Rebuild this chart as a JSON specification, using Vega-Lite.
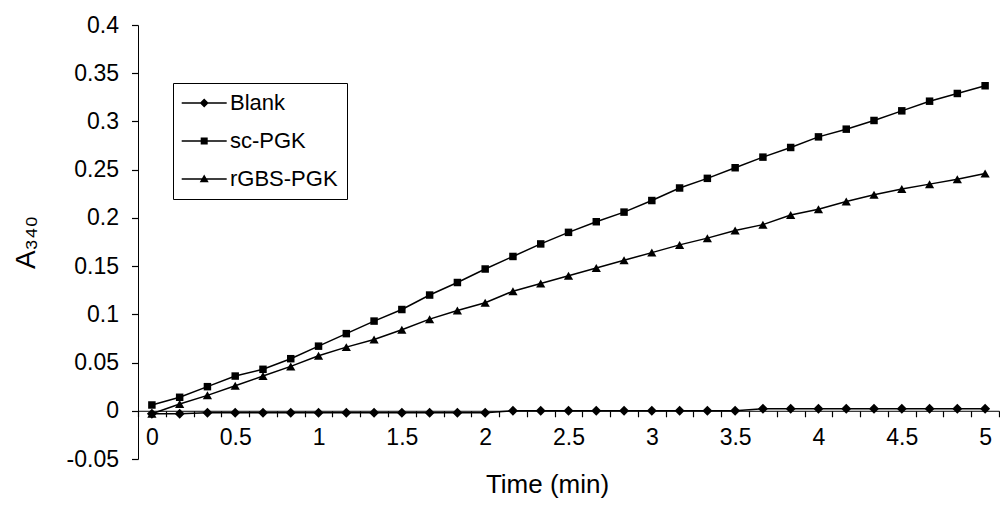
{
  "$schema": "https://vega.github.io/schema/vega-lite/v6.json",
  "width": 861,
  "height": 434,
  "autosize": {"type": "none"},
  "padding": {"left": 138, "top": 25, "right": 1, "bottom": 47},
  "background": "white",
  "config": {
    "view": {"stroke": null},
    "font": "Liberation Sans",
    "legend": {"strokeWidth": 1},
    "axis": {
      "grid": false,
      "ticks": true,
      "domainColor": "black",
      "domainWidth": 1,
      "tickColor": "black",
      "tickWidth": 1.2,
      "labelColor": "black",
      "titleColor": "black",
      "labelFont": "Liberation Sans",
      "titleFont": "Liberation Sans",
      "titleFontWeight": "normal"
    }
  },
  "data": {
    "values": [
      {"t": 0, "v": -0.003, "s": "Blank"},
      {"t": 0.1667, "v": -0.003, "s": "Blank"},
      {"t": 0.3333, "v": -0.002, "s": "Blank"},
      {"t": 0.5, "v": -0.002, "s": "Blank"},
      {"t": 0.6667, "v": -0.002, "s": "Blank"},
      {"t": 0.8333, "v": -0.002, "s": "Blank"},
      {"t": 1, "v": -0.002, "s": "Blank"},
      {"t": 1.1667, "v": -0.002, "s": "Blank"},
      {"t": 1.3333, "v": -0.002, "s": "Blank"},
      {"t": 1.5, "v": -0.002, "s": "Blank"},
      {"t": 1.6667, "v": -0.002, "s": "Blank"},
      {"t": 1.8333, "v": -0.002, "s": "Blank"},
      {"t": 2, "v": -0.002, "s": "Blank"},
      {"t": 2.1667, "v": 0, "s": "Blank"},
      {"t": 2.3333, "v": 0, "s": "Blank"},
      {"t": 2.5, "v": 0, "s": "Blank"},
      {"t": 2.6667, "v": 0, "s": "Blank"},
      {"t": 2.8333, "v": 0, "s": "Blank"},
      {"t": 3, "v": 0, "s": "Blank"},
      {"t": 3.1667, "v": 0, "s": "Blank"},
      {"t": 3.3333, "v": 0, "s": "Blank"},
      {"t": 3.5, "v": 0, "s": "Blank"},
      {"t": 3.6667, "v": 0.002, "s": "Blank"},
      {"t": 3.8333, "v": 0.002, "s": "Blank"},
      {"t": 4, "v": 0.002, "s": "Blank"},
      {"t": 4.1667, "v": 0.002, "s": "Blank"},
      {"t": 4.3333, "v": 0.002, "s": "Blank"},
      {"t": 4.5, "v": 0.002, "s": "Blank"},
      {"t": 4.6667, "v": 0.002, "s": "Blank"},
      {"t": 4.8333, "v": 0.002, "s": "Blank"},
      {"t": 5, "v": 0.002, "s": "Blank"},

      {"t": 0, "v": 0.006, "s": "sc-PGK"},
      {"t": 0.1667, "v": 0.014, "s": "sc-PGK"},
      {"t": 0.3333, "v": 0.025, "s": "sc-PGK"},
      {"t": 0.5, "v": 0.036, "s": "sc-PGK"},
      {"t": 0.6667, "v": 0.043, "s": "sc-PGK"},
      {"t": 0.8333, "v": 0.054, "s": "sc-PGK"},
      {"t": 1, "v": 0.067, "s": "sc-PGK"},
      {"t": 1.1667, "v": 0.080, "s": "sc-PGK"},
      {"t": 1.3333, "v": 0.093, "s": "sc-PGK"},
      {"t": 1.5, "v": 0.105, "s": "sc-PGK"},
      {"t": 1.6667, "v": 0.120, "s": "sc-PGK"},
      {"t": 1.8333, "v": 0.133, "s": "sc-PGK"},
      {"t": 2, "v": 0.147, "s": "sc-PGK"},
      {"t": 2.1667, "v": 0.160, "s": "sc-PGK"},
      {"t": 2.3333, "v": 0.173, "s": "sc-PGK"},
      {"t": 2.5, "v": 0.185, "s": "sc-PGK"},
      {"t": 2.6667, "v": 0.196, "s": "sc-PGK"},
      {"t": 2.8333, "v": 0.206, "s": "sc-PGK"},
      {"t": 3, "v": 0.218, "s": "sc-PGK"},
      {"t": 3.1667, "v": 0.231, "s": "sc-PGK"},
      {"t": 3.3333, "v": 0.241, "s": "sc-PGK"},
      {"t": 3.5, "v": 0.252, "s": "sc-PGK"},
      {"t": 3.6667, "v": 0.263, "s": "sc-PGK"},
      {"t": 3.8333, "v": 0.273, "s": "sc-PGK"},
      {"t": 4, "v": 0.284, "s": "sc-PGK"},
      {"t": 4.1667, "v": 0.292, "s": "sc-PGK"},
      {"t": 4.3333, "v": 0.301, "s": "sc-PGK"},
      {"t": 4.5, "v": 0.311, "s": "sc-PGK"},
      {"t": 4.6667, "v": 0.321, "s": "sc-PGK"},
      {"t": 4.8333, "v": 0.329, "s": "sc-PGK"},
      {"t": 5, "v": 0.337, "s": "sc-PGK"},

      {"t": 0, "v": -0.003, "s": "rGBS-PGK"},
      {"t": 0.1667, "v": 0.007, "s": "rGBS-PGK"},
      {"t": 0.3333, "v": 0.016, "s": "rGBS-PGK"},
      {"t": 0.5, "v": 0.026, "s": "rGBS-PGK"},
      {"t": 0.6667, "v": 0.036, "s": "rGBS-PGK"},
      {"t": 0.8333, "v": 0.046, "s": "rGBS-PGK"},
      {"t": 1, "v": 0.057, "s": "rGBS-PGK"},
      {"t": 1.1667, "v": 0.066, "s": "rGBS-PGK"},
      {"t": 1.3333, "v": 0.074, "s": "rGBS-PGK"},
      {"t": 1.5, "v": 0.084, "s": "rGBS-PGK"},
      {"t": 1.6667, "v": 0.095, "s": "rGBS-PGK"},
      {"t": 1.8333, "v": 0.104, "s": "rGBS-PGK"},
      {"t": 2, "v": 0.112, "s": "rGBS-PGK"},
      {"t": 2.1667, "v": 0.124, "s": "rGBS-PGK"},
      {"t": 2.3333, "v": 0.132, "s": "rGBS-PGK"},
      {"t": 2.5, "v": 0.140, "s": "rGBS-PGK"},
      {"t": 2.6667, "v": 0.148, "s": "rGBS-PGK"},
      {"t": 2.8333, "v": 0.156, "s": "rGBS-PGK"},
      {"t": 3, "v": 0.164, "s": "rGBS-PGK"},
      {"t": 3.1667, "v": 0.172, "s": "rGBS-PGK"},
      {"t": 3.3333, "v": 0.179, "s": "rGBS-PGK"},
      {"t": 3.5, "v": 0.187, "s": "rGBS-PGK"},
      {"t": 3.6667, "v": 0.193, "s": "rGBS-PGK"},
      {"t": 3.8333, "v": 0.203, "s": "rGBS-PGK"},
      {"t": 4, "v": 0.209, "s": "rGBS-PGK"},
      {"t": 4.1667, "v": 0.217, "s": "rGBS-PGK"},
      {"t": 4.3333, "v": 0.224, "s": "rGBS-PGK"},
      {"t": 4.5, "v": 0.230, "s": "rGBS-PGK"},
      {"t": 4.6667, "v": 0.235, "s": "rGBS-PGK"},
      {"t": 4.8333, "v": 0.240, "s": "rGBS-PGK"},
      {"t": 5, "v": 0.246, "s": "rGBS-PGK"}
    ]
  },
  "encoding": {
    "x": {
      "field": "t",
      "type": "quantitative",
      "scale": {"domain": [-0.0833333, 5.0833333], "nice": false, "zero": false},
      "axis": {
        "title": "Time (min)",
        "values": [-0.0833333, 0.0833333, 0.25, 0.4166667, 0.5833333, 0.75, 0.9166667, 1.0833333, 1.25, 1.4166667, 1.5833333, 1.75, 1.9166667, 2.0833333, 2.25, 2.4166667, 2.5833333, 2.75, 2.9166667, 3.0833333, 3.25, 3.4166667, 3.5833333, 3.75, 3.9166667, 4.0833333, 4.25, 4.4166667, 4.5833333, 4.75, 4.9166667, 5.0833333],
        "labelExpr": "(round(datum.value*12)+1) % 6 === 0 ? '' + (round(datum.value*12)+1)/12 : ''",
        "labelOffset": 13.875,
        "labelOverlap": false,
        "labelFlush": false,
        "offset": -48.22,
        "ticks": true,
        "tickSize": 6,
        "labelFontSize": 23,
        "labelPadding": 10,
        "titleFontSize": 26,
        "titlePadding": 22,
        "titleX": 409
      }
    },
    "y": {
      "field": "v",
      "type": "quantitative",
      "scale": {"domain": [-0.05, 0.4], "nice": false, "zero": false},
      "axis": {
        "title": "A₃₄₀",
        "values": [-0.05, 0, 0.05, 0.1, 0.15, 0.2, 0.25, 0.3, 0.35, 0.4],
        "labelExpr": "'' + round(datum.value*100)/100",
        "ticks": true,
        "tickSize": 6.5,
        "labelFontSize": 23,
        "labelPadding": 13,
        "titleFontSize": 28,
        "titleX": -98,
        "titleBaseline": "bottom"
      }
    }
  },
  "layer": [
    {
      "mark": {"type": "line", "color": "black", "strokeWidth": 1.5},
      "encoding": {"detail": {"field": "s", "type": "nominal"}}
    },
    {
      "transform": [{"filter": "datum.s === 'Blank'"}],
      "mark": {"type": "point", "shape": "diamond", "filled": true, "color": "black", "opacity": 1, "size": 100}
    },
    {
      "transform": [{"filter": "datum.s === 'sc-PGK'"}],
      "mark": {"type": "point", "shape": "square", "filled": true, "color": "black", "opacity": 1, "size": 56}
    },
    {
      "transform": [{"filter": "datum.s === 'rGBS-PGK'"}],
      "mark": {"type": "point", "shape": "triangle-up", "filled": true, "color": "black", "opacity": 1, "size": 85}
    },
    {
      "mark": {"type": "point", "filled": true, "fill": "black", "opacity": 0},
      "encoding": {
        "shape": {
          "field": "s",
          "type": "nominal",
          "scale": {
            "domain": ["Blank", "sc-PGK", "rGBS-PGK"],
            "range": [
              "M-1.13,-0.065H3.37V0.065H-1.13ZM1.12,-0.45L1.57,0L1.12,0.45L0.67,0Z",
              "M-1.13,-0.065H3.37V0.065H-1.13ZM0.77,-0.35H1.47V0.35H0.77Z",
              "M-1.13,-0.065H3.37V0.065H-1.13ZM1.12,-0.45L1.57,0.33H0.67Z"
            ]
          },
          "legend": {
            "title": null,
            "orient": "none",
            "direction": "vertical",
            "legendX": 35,
            "legendY": 58,
            "padding": 9,
            "strokeColor": "black",
            "fillColor": "white",
            "cornerRadius": 0,
            "labelFontSize": 22,
            "labelColor": "black",
            "labelFont": "Liberation Sans",
            "labelOffset": 26,
            "rowPadding": 16,
            "symbolSize": 400,
            "symbolOpacity": 1,
            "symbolFillColor": "black",
            "encode": {
              "symbols": {
                "update": {
                  "fill": {"value": "black"},
                  "opacity": {"value": 1},
                  "fillOpacity": {"value": 1}
                }
              }
            }
          }
        }
      }
    }
  ]
}
